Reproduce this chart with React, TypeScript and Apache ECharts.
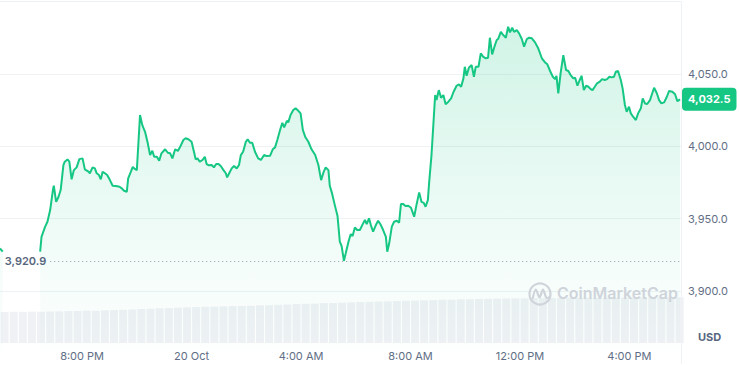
import React, { useEffect, useRef } from "react";
import * as echarts from "echarts";

// ETH / USD, 1 day, 19–20 Oct
const START_ISO = "2025-10-19T17:00:00Z";
const END_MIN = 1493;

// [minutes since start, price in USD]
const priceSeries: [number, number | null][] = [
  [0, 3929.5], [6, 3927.2], [10, null],
  [88, 3927.2], [91, 3937.5], [99, 3944.5], [104, 3947.9], [110, 3956.0], [116, 3969.8], [118, 3972.8],
  [123, 3961.7], [128, 3964.8], [133, 3969.8], [139, 3987.1], [142, 3989.4], [148, 3991.0], [152, 3989.4],
  [157, 3977.2], [162, 3983.6], [168, 3985.5], [174, 3991.2], [181, 3991.7], [186, 3984.1], [194, 3982.5],
  [197, 3981.4], [203, 3985.5], [208, 3984.8], [212, 3981.4], [217, 3980.2], [221, 3977.2], [225, 3982.5],
  [230, 3981.4], [235, 3980.2], [241, 3976.7], [247, 3972.8], [254, 3972.6], [262, 3972.1], [267, 3971.0],
  [272, 3969.3], [278, 3968.6], [281, 3977.9], [287, 3982.5], [291, 3985.9], [294, 3984.8], [300, 3983.6],
  [307, 4021.7], [312, 4014.7], [318, 4010.1], [324, 4002.1], [329, 3994.0], [334, 3997.0], [338, 3992.8],
  [344, 3992.8], [349, 3990.1], [354, 3995.2], [362, 3998.0], [368, 3995.6], [373, 3995.2], [378, 3991.7],
  [384, 3998.0], [390, 3996.8], [395, 3999.7], [402, 4004.4], [407, 4005.6], [413, 4004.9], [420, 4003.2],
  [426, 3995.2], [429, 3991.0], [433, 3991.7], [438, 3989.4], [444, 3990.6], [449, 3992.8], [453, 3987.8],
  [458, 3986.9], [464, 3987.1], [469, 3985.5], [474, 3987.8], [479, 3987.8], [484, 3986.4], [490, 3983.6],
  [495, 3981.4], [498, 3978.6], [503, 3981.8], [508, 3984.8], [513, 3986.4], [519, 3984.8], [524, 3987.1],
  [528, 3994.0], [533, 3996.3], [539, 4003.2], [543, 4004.9], [548, 4002.5], [553, 4002.5], [559, 3996.3],
  [566, 3991.7], [572, 3990.6], [579, 3994.0], [585, 3993.3], [592, 3993.5], [598, 3998.0], [603, 3999.3],
  [608, 4004.4], [614, 4011.3], [619, 4016.3], [623, 4013.2], [629, 4017.7], [632, 4016.6], [637, 4021.7],
  [643, 4025.1], [648, 4026.3], [654, 4024.6], [659, 4022.8], [664, 4011.3], [669, 4006.7], [676, 4003.2],
  [683, 3998.0], [691, 3994.0], [698, 3987.1], [704, 3976.7], [709, 3981.8], [714, 3985.5], [720, 3983.6],
  [723, 3972.8], [728, 3967.5], [734, 3959.4], [740, 3951.8], [745, 3934.1], [749, 3931.1], [754, 3920.9],
  [758, 3926.1], [764, 3934.1], [769, 3939.4], [773, 3938.0], [778, 3944.0], [783, 3942.2], [789, 3942.2],
  [795, 3946.1], [800, 3949.1], [804, 3946.3], [809, 3950.3], [813, 3945.6], [818, 3941.0], [824, 3945.6],
  [829, 3948.6], [835, 3945.6], [840, 3942.2], [846, 3937.5], [849, 3927.2], [853, 3932.5], [859, 3944.5],
  [864, 3947.9], [870, 3948.6], [875, 3947.2], [879, 3960.1], [884, 3960.1], [889, 3958.8], [895, 3959.0],
  [901, 3957.6], [908, 3951.4], [913, 3959.4], [919, 3968.2], [924, 3961.7], [929, 3961.0], [933, 3958.3],
  [938, 3962.9], [941, 3975.6], [946, 3994.0], [950, 4014.7], [954, 4035.5], [957, 4032.0], [962, 4038.9],
  [967, 4033.6], [972, 4035.5], [977, 4029.1], [983, 4030.9], [989, 4033.2], [994, 4037.4], [1001, 4041.9],
  [1006, 4042.9], [1011, 4041.2], [1016, 4047.0], [1019, 4055.0], [1023, 4048.8], [1028, 4054.4], [1034, 4056.2],
  [1039, 4048.1], [1043, 4055.0], [1049, 4055.0], [1054, 4064.3], [1059, 4062.0], [1065, 4060.9], [1070, 4061.3],
  [1074, 4075.1], [1079, 4063.6], [1084, 4068.9], [1089, 4073.5], [1092, 4074.2], [1098, 4079.2], [1102, 4077.4],
  [1109, 4075.1], [1114, 4082.7], [1118, 4078.8], [1123, 4082.0], [1127, 4079.2], [1133, 4080.4], [1138, 4078.1],
  [1144, 4074.2], [1149, 4068.9], [1155, 4074.2], [1160, 4075.1], [1166, 4074.7], [1173, 4071.9], [1180, 4067.8],
  [1188, 4060.9], [1195, 4058.0], [1200, 4056.7], [1206, 4052.1], [1212, 4048.1], [1217, 4046.5], [1220, 4048.8],
  [1224, 4036.7], [1229, 4050.5], [1235, 4063.1], [1241, 4052.8], [1246, 4052.1], [1251, 4049.3], [1257, 4047.0],
  [1261, 4047.4], [1266, 4041.9], [1270, 4045.2], [1275, 4048.8], [1280, 4038.9], [1285, 4041.9], [1290, 4041.2],
  [1295, 4039.6], [1299, 4038.9], [1304, 4041.2], [1309, 4043.6], [1315, 4044.7], [1320, 4046.5], [1326, 4045.9],
  [1331, 4046.5], [1336, 4048.1], [1341, 4047.7], [1346, 4048.1], [1350, 4051.6], [1355, 4052.1], [1361, 4045.9],
  [1365, 4040.1], [1370, 4028.6], [1374, 4023.9], [1379, 4027.4], [1383, 4022.8], [1388, 4020.5], [1394, 4018.2],
  [1399, 4022.8], [1405, 4026.3], [1409, 4033.2], [1414, 4029.7], [1419, 4029.3], [1425, 4032.0], [1430, 4036.7],
  [1434, 4040.5], [1440, 4036.7], [1445, 4032.0], [1450, 4029.7], [1456, 4030.4], [1462, 4034.3], [1467, 4038.3],
  [1474, 4037.8], [1480, 4036.0], [1485, 4031.3], [1491, 4032.5],
];

// 24h volume (USD billions), one bar every 20 minutes
const VOLUME_STEP_MIN = 20;
const volumeSeries: number[] = [
  31.0, 31.3, 31.1, 31.4, 31.2, 31.5, 31.6, 31.9, 32.1, 32.4,
  32.2, 32.7, 33.0, 33.2, 33.5, 34.0, 34.2, 34.7, 34.9, 35.3,
  35.6, 35.9, 36.2, 36.3, 36.7, 36.9, 37.1, 37.3, 37.7, 37.8,
  38.2, 38.5, 38.9, 39.2, 39.4, 39.9, 40.1, 40.4, 40.6, 41.0,
  41.2, 41.5, 41.7, 41.9, 42.2, 42.4, 42.7, 42.9, 43.2, 43.3,
  43.7, 43.8, 44.1, 44.2, 44.4, 44.5, 44.7, 44.7, 44.9, 44.9,
  45.1, 45.0, 45.2, 45.2, 45.3, 45.2, 45.4, 45.4, 45.5, 45.5,
  45.6, 45.6, 45.7, 45.7, 45.8,
];

const xTickTimes = [
  "2025-10-19T20:00:00Z",
  "2025-10-20T00:00:00Z",
  "2025-10-20T04:00:00Z",
  "2025-10-20T08:00:00Z",
  "2025-10-20T12:00:00Z",
  "2025-10-20T16:00:00Z",
];
const xTickLabels = ["8:00 PM", "20 Oct", "4:00 AM", "8:00 AM", "12:00 PM", "4:00 PM"];
const yTickValues = [3900, 3950, 4000, 4050];

const GREEN = "#16c784";
const AXIS_TEXT = "#616e85";
const GRID_LINE = "#eff2f5";
const FONT = "Inter, 'Noto Sans', sans-serif";

const fmt = (v: number) =>
  v.toLocaleString("en-US", { minimumFractionDigits: 1, maximumFractionDigits: 1 });

export default function App() {
  const ref = useRef<HTMLDivElement>(null);

  useEffect(() => {
    if (!ref.current) return;
    const chart = echarts.init(ref.current, null, { renderer: "svg" });

    const t0 = Date.parse(START_ISO);
    const toT = (m: number) => t0 + m * 60000;
    const xMin = toT(0);
    const xMax = toT(END_MIN);

    const priceData = priceSeries.map(([m, p]) => [toT(m), p === null ? "-" : p]);
    const validPrices = priceSeries.filter((d) => d[1] !== null).map((d) => d[1] as number);
    const lowPrice = Math.min(...validPrices);
    const lastPrice = validPrices[validPrices.length - 1];
    const volumeData = volumeSeries.map((v, i) => [toT(i * VOLUME_STEP_MIN + VOLUME_STEP_MIN / 2), v]);
    const tickTs = xTickTimes.map((s) => Date.parse(s));

    chart.setOption({
      animation: false,
      textStyle: { fontFamily: FONT },
      grid: [
        { left: 0, right: 58, top: 1.7, bottom: 1.6 },
        { left: 0, right: 58, top: 296, bottom: 22 },
      ],
      xAxis: [
        { type: "value", gridIndex: 0, min: xMin, max: xMax, show: false },
        {
          type: "value",
          gridIndex: 1,
          min: xMin,
          max: xMax,
          axisLine: { show: false },
          axisTick: { show: false },
          splitLine: { show: false },
          axisLabel: {
            customValues: tickTs,
            formatter: (v: number) => {
              const i = tickTs.indexOf(v);
              return i >= 0 ? xTickLabels[i] : "";
            },
            color: AXIS_TEXT,
            fontSize: 11,
            fontFamily: FONT,
            margin: 7,
          },
        },
      ],
      yAxis: [
        {
          type: "value",
          gridIndex: 0,
          position: "right",
          min: 3850,
          max: 4100,
          interval: 50,
          axisLine: { show: true, lineStyle: { color: GRID_LINE, width: 1 } },
          axisTick: { show: false },
          splitLine: {
            show: true,
            lineStyle: {
              color: ["rgba(0,0,0,0)", GRID_LINE, GRID_LINE, GRID_LINE, GRID_LINE, GRID_LINE],
              width: 1,
            },
          },
          axisLabel: {
            formatter: (v: number) => (yTickValues.includes(v) ? fmt(v) : ""),
            color: AXIS_TEXT,
            fontSize: 11,
            fontFamily: FONT,
            margin: 7,
          },
        },
        { type: "value", gridIndex: 1, min: 0, max: 47, show: false },
      ],
      series: [
        {
          type: "bar",
          name: "Volume",
          xAxisIndex: 1,
          yAxisIndex: 1,
          data: volumeData,
          barWidth: 8,
          itemStyle: { color: "#eff1f5" },
          z: 1,
          silent: true,
        },
        {
          type: "line",
          name: "Price",
          xAxisIndex: 0,
          yAxisIndex: 0,
          data: priceData,
          showSymbol: false,
          connectNulls: false,
          lineStyle: { color: GREEN, width: 2 },
          itemStyle: { color: GREEN },
          areaStyle: {
            color: new echarts.graphic.LinearGradient(0, 0, 0, 1, [
              { offset: 0, color: "rgba(22,199,132,0.28)" },
              { offset: 0.7, color: "rgba(22,199,132,0.07)" },
              { offset: 1, color: "rgba(22,199,132,0.0)" },
            ]),
          },
          z: 3,
          markLine: {
            silent: true,
            symbol: ["none", "none"],
            animation: false,
            data: [
              [
                {
                  coord: [toT(110), lowPrice],
                  lineStyle: { color: "#8f99ab", type: [1, 3], width: 1 },
                  label: {
                    show: true,
                    position: "start",
                    distance: 4,
                    formatter: fmt(lowPrice),
                    color: "#58667e",
                    fontSize: 11,
                    fontWeight: 600,
                    fontFamily: FONT,
                  },
                },
                { coord: [xMax, lowPrice] },
              ],
              {
                yAxis: lastPrice,
                lineStyle: { color: "rgba(0,0,0,0)", width: 0 },
                label: {
                  show: true,
                  position: "end",
                  distance: 1,
                  formatter: fmt(lastPrice),
                  color: "#ffffff",
                  backgroundColor: GREEN,
                  borderRadius: 4,
                  padding: [6, 6],
                  fontSize: 11,
                  fontWeight: 700,
                  fontFamily: FONT,
                },
              },
            ],
          },
        },
      ],
      graphic: [
        {
          type: "text",
          left: 698,
          top: 331,
          style: { text: "USD", fill: "#58667e", font: `700 11px ${FONT}` },
        },
        {
          type: "circle",
          shape: { cx: 540, cy: 294, r: 10.5 },
          style: { fill: "none", stroke: "#cfd4db", lineWidth: 2.2 },
          z: 10,
        },
        {
          type: "polyline",
          shape: {
            points: [[532.5, 299], [535.8, 289.5], [539.5, 297.5], [543, 289.5], [546.5, 298], [550.5, 296]],
            smooth: 0.3,
          },
          style: { fill: "none", stroke: "#cfd4db", lineWidth: 2.2 },
          z: 10,
        },
        {
          type: "text",
          left: 557,
          top: 285,
          style: { text: "CoinMarketCap", fill: "#cfd4db", font: `600 16px ${FONT}` },
          z: 10,
        },
      ],
    });

    return () => chart.dispose();
  }, []);

  return (
    <div
      ref={ref}
      style={{ position: "fixed", left: 0, top: 0, width: 739, height: 365, background: "#fff" }}
    />
  );
}
